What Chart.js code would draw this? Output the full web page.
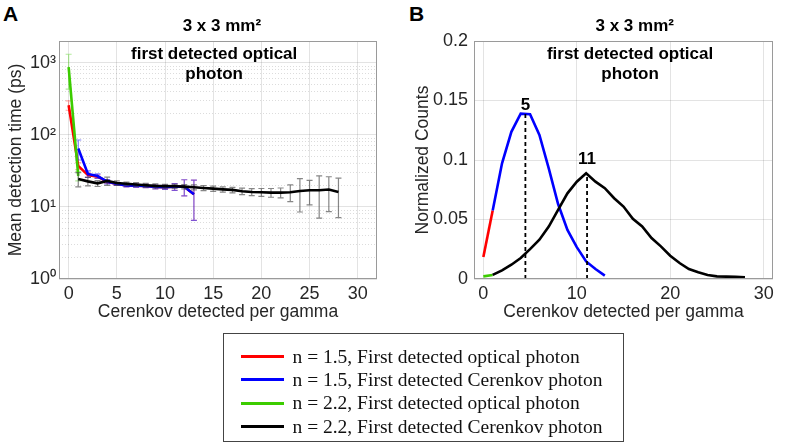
<!DOCTYPE html>
<html>
<head>
<meta charset="utf-8">
<script src="https://cdn.jsdelivr.net/npm/chart.js@4.4.0/dist/chart.umd.min.js"></script>
<style>
  body { margin: 0; background: #fff; width: 789px; height: 445px; position: relative; overflow: hidden;
         font-family: "Liberation Sans", Arial, sans-serif; }
  #wrapA { position: absolute; left: 0; top: 0; width: 395px; height: 340px; }
  #wrapB { position: absolute; left: 395px; top: 0; width: 394px; height: 340px; }
  .letter { position: absolute; font-weight: bold; font-size: 21px; line-height: 21px; color: #000; }
  #legend { position: absolute; left: 223px; top: 333px; width: 399px; height: 107px;
            border: 1.5px solid #444; box-sizing: content-box; padding: 0;
            font-family: "Liberation Serif", "Times New Roman", serif; font-size: 19.5px; color: #111; }
  #legend .row { display: flex; align-items: center; height: 23.3px; padding-left: 16.5px; }
  #legend .row:first-child { margin-top: 11px; }
  #legend .swatch { width: 43px; height: 3px; margin-right: 9px; }
</style>
</head>
<body>
<div class="letter" style="left:3px;top:3px">A</div>
<div class="letter" style="left:409px;top:3px">B</div>
<div id="wrapA"><canvas id="chartA" width="395" height="340"></canvas></div>
<div id="wrapB"><canvas id="chartB" width="394" height="340"></canvas></div>
<div id="legend"></div>

<script>
// ---- data ----
const seriesLabels = [
  'n = 1.5, First detected optical photon',
  'n = 1.5, First detected Cerenkov photon',
  'n = 2.2, First detected optical photon',
  'n = 2.2, First detected Cerenkov photon'
];
const seriesColors = ['#ff0000', '#0000ff', '#3ccc00', '#000000'];
const errorColors = ['rgba(255,0,0,0.35)', 'rgba(0,0,255,0.5)', 'rgba(60,204,0,0.4)', 'rgba(70,70,70,0.65)'];

// panel A: mean detection time (ps) vs Cerenkov detected per gamma
const xOpt15 = [0, 1, 2, 3, 4, 5, 6, 7, 8, 9, 10, 11, 12, 13];
const meanOpt15 = [257, 37, 27.6, 26.3, 22.4, 20.8, 19.9, 19.7, 19.5, 18.9, 18.7, 19.0, 19.0, 15.0];
const errOpt15 = [38, 4, 2, 1.5, 1.2, 1, 1, 1, 1, 1.2, 1.2, 2, 4.8, 8.5];

const xCer15 = [1, 2, 3, 4, 5, 6, 7, 8, 9, 10, 11, 12, 13];
const meanCer15 = [64.7, 28.6, 26.8, 22.4, 20.8, 19.9, 19.7, 19.5, 18.9, 18.7, 19.0, 19.0, 15.0];
const errCer15 = [20, 3, 2, 1.5, 1, 1, 1, 1, 1.2, 1.2, 2, 4.8, 8.5];

const xOpt22 = [0, 1];
const meanOpt22 = [870, 27];
const errOpt22 = [440, 4];

const xCer22 = [1, 2, 3, 4, 5, 6, 7, 8, 9, 10, 11, 12, 13, 14, 15, 16, 17, 18, 19, 20, 21, 22, 23, 24, 25, 26, 27, 28];
const meanCer22 = [24.4, 22.6, 21.2, 22.9, 21.4, 20.9, 20.5, 20.0, 19.6, 19.4, 19.3, 19.1, 18.7, 18.3,
                   17.9, 17.5, 17.2, 16.5, 16.1, 16.0, 15.8, 15.8, 16.0, 16.6, 17.0, 17.0, 17.4, 16.1];
const errCer22 = [5.5, 3, 2, 3, 1.5, 1.2, 1.2, 1.2, 1.2, 1.2, 1.2, 1.3, 1.5, 1.5,
                  1.5, 1.5, 1.5, 1.7, 1.8, 2, 2.2, 2.5, 4.2, 8.1, 6.3, 10, 8.8, 9];

const logTickLabels = {1: '10\u2070', 10: '10\u00b9', 100: '10\u00b2', 1000: '10\u00b3'};

// panel B: normalized counts
const xCntOpt15 = [0, 1];
const cntOpt15 = [0.0184, 0.0575];
const xCntCer15 = [1, 2, 3, 4, 5, 6, 7, 8, 9, 10, 11, 12, 13];
const cntCer15 = [0.0575, 0.0972, 0.1237, 0.139, 0.1385, 0.121, 0.093, 0.063, 0.0413, 0.0268, 0.0148, 0.0084, 0.0028];
const xCntOpt22 = [0, 1];
const cntOpt22 = [0.0022, 0.0034];
const xCntCer22 = [1, 2, 3, 4, 5, 6, 7, 8, 9, 10, 11, 12, 13, 14, 15, 16, 17, 18, 19, 20, 21, 22, 23, 24, 25, 26, 27, 28];
const cntCer22 = [0.0034, 0.0073, 0.012, 0.0176, 0.0251, 0.033, 0.0441, 0.058, 0.072, 0.0818, 0.0888, 0.0818,
                  0.0763, 0.0679, 0.0609, 0.0506, 0.0441, 0.0344, 0.0274, 0.0196, 0.0134, 0.0084, 0.0056,
                  0.0034, 0.0022, 0.002, 0.0018, 0.0014];

// peak markers (dashed lines) and their labels
const peakX = [4.5, 11.1];
const peakY = [0.139, 0.0888];
const peakLabels = ['5', '11'];
const peakLabelY = [0.146, 0.1006];

const panelTitle = '3 x 3 mm\u00b2';
const panelNote = ['first detected optical', 'photon'];

// ---- helpers ----
const toPoints = (xs, ys) => xs.map((x, i) => ({x: x, y: ys[i]}));

Chart.defaults.font.family = "'Liberation Sans', Arial, sans-serif";
Chart.defaults.color = '#262626';

const gridMajor = 'rgba(38,38,38,0.13)';
const gridMinor = 'rgba(38,38,38,0.16)';
const tickFont = {size: 18};
const axisTitleFont = {size: 17.5};

// box around the plot area + title and note text
const boxPlugin = {
  id: 'matBox',
  afterDraw(chart, args, opts) {
    const {ctx, chartArea: a, scales} = chart;
    ctx.save();
    ctx.strokeStyle = '#9a9a9a';
    ctx.lineWidth = 1;
    ctx.strokeRect(a.left + 0.5, a.top + 0.5, a.right - a.left - 1, a.bottom - a.top - 1);
    ctx.fillStyle = '#000';
    ctx.textAlign = 'center';
    ctx.textBaseline = 'middle';
    ctx.font = "bold 17px 'Liberation Sans', Arial, sans-serif";
    ctx.fillText(panelTitle, scales.x.getPixelForValue(opts.titleX), 26.7);
    panelNote.forEach((t, i) => ctx.fillText(t, scales.x.getPixelForValue(opts.noteX), 54 + i * 20));
    ctx.restore();
  }
};

// symmetric error bars, drawn just before each line
const errorBarPlugin = {
  id: 'errorBars',
  beforeDatasetDraw(chart, args) {
    const ds = chart.data.datasets[args.index];
    if (!ds.errors) return;
    const {ctx, chartArea: a, scales: {x, y}} = chart;
    ctx.save();
    ctx.beginPath();
    ctx.rect(a.left, a.top, a.right - a.left, a.bottom - a.top);
    ctx.clip();
    ctx.strokeStyle = ds.errorColor;
    ctx.lineWidth = 1.2;
    ds.data.forEach((p, i) => {
      const e = ds.errors[i];
      const px = x.getPixelForValue(p.x);
      const hi = y.getPixelForValue(p.y + e);
      const lo = y.getPixelForValue(Math.max(p.y - e, 1));
      ctx.beginPath();
      ctx.moveTo(px, hi); ctx.lineTo(px, lo);
      ctx.moveTo(px - 3, hi); ctx.lineTo(px + 3, hi);
      ctx.moveTo(px - 3, lo); ctx.lineTo(px + 3, lo);
      ctx.stroke();
    });
    ctx.restore();
  }
};

// peak value labels for panel B
const peakLabelPlugin = {
  id: 'peakLabels',
  afterDatasetsDraw(chart) {
    const {ctx, scales: {x, y}} = chart;
    ctx.save();
    ctx.fillStyle = '#000';
    ctx.textAlign = 'center';
    ctx.textBaseline = 'middle';
    ctx.font = "bold 17px 'Liberation Sans', Arial, sans-serif";
    peakLabels.forEach((t, i) => ctx.fillText(t, x.getPixelForValue(peakX[i]), y.getPixelForValue(peakLabelY[i])));
    ctx.restore();
  }
};

function lineSet(label, pts, color, order, extra) {
  return Object.assign({
    label: label, data: pts, borderColor: color, backgroundColor: color,
    borderWidth: 2.6, pointRadius: 0, tension: 0, order: order
  }, extra || {});
}

// ---- panel A ----
new Chart(document.getElementById('chartA'), {
  type: 'line',
  data: {
    datasets: [
      lineSet(seriesLabels[0], toPoints(xOpt15, meanOpt15), seriesColors[0], 4, {errors: errOpt15, errorColor: errorColors[0]}),
      lineSet(seriesLabels[1], toPoints(xCer15, meanCer15), seriesColors[1], 3, {errors: errCer15, errorColor: errorColors[1]}),
      lineSet(seriesLabels[2], toPoints(xOpt22, meanOpt22), seriesColors[2], 2, {errors: errOpt22, errorColor: errorColors[2]}),
      lineSet(seriesLabels[3], toPoints(xCer22, meanCer22), seriesColors[3], 1, {errors: errCer22, errorColor: errorColors[3]})
    ]
  },
  options: {
    responsive: false,
    animation: false,
    layout: {padding: {left: 0, right: 18, top: 41, bottom: 0}},
    plugins: {legend: {display: false}, tooltip: {enabled: false}, matBox: {titleX: 15.9, noteX: 15.1}},
    scales: {
      x: {
        type: 'linear', min: -1, max: 32,
        ticks: {stepSize: 5, includeBounds: false, padding: 4, font: tickFont, maxRotation: 0},
        grid: {color: gridMajor, drawTicks: false},
        border: {display: false},
        title: {display: true, text: 'Cerenkov detected per gamma', font: axisTitleFont, padding: {top: 0, bottom: 17}},
        afterFit: s => { s.height = 61; }
      },
      y: {
        type: 'logarithmic', min: 1, max: 2000,
        afterBuildTicks: s => {
          s.ticks = s.ticks.filter(t => {
            const m = t.value / Math.pow(10, Math.floor(Math.log10(t.value) + 1e-9));
            return Math.abs(m - Math.round(m)) < 1e-6;
          });
        },
        ticks: {autoSkip: false, padding: 3, font: tickFont,
                callback: v => logTickLabels[v] || ''},
        grid: {
          drawTicks: false,
          color: c => (logTickLabels[c.tick && c.tick.value] ? gridMajor : gridMinor)
        },
        border: {display: false, dash: c => (logTickLabels[c.tick && c.tick.value] ? [] : [1, 2])},
        title: {display: true, text: 'Mean detection time (ps)', font: axisTitleFont, padding: {top: 6, bottom: 0}},
        afterFit: s => { s.width = 59; }
      }
    }
  },
  plugins: [errorBarPlugin, boxPlugin]
});

// ---- panel B ----
const dashedSets = peakX.map((px, i) => lineSet('peak ' + peakLabels[i],
  toPoints([px, px], [0, peakY[i]]), '#000', 0, {borderWidth: 1.8, borderDash: [4, 3]}));

new Chart(document.getElementById('chartB'), {
  type: 'line',
  data: {
    datasets: [
      lineSet(seriesLabels[0], toPoints(xCntOpt15, cntOpt15), seriesColors[0], 4),
      lineSet(seriesLabels[1], toPoints(xCntCer15, cntCer15), seriesColors[1], 3),
      lineSet(seriesLabels[2], toPoints(xCntOpt22, cntOpt22), seriesColors[2], 2),
      lineSet(seriesLabels[3], toPoints(xCntCer22, cntCer22), seriesColors[3], 1)
    ].concat(dashedSets)
  },
  options: {
    responsive: false,
    animation: false,
    layout: {padding: {left: 0, right: 16, top: 41, bottom: 0}},
    plugins: {legend: {display: false}, tooltip: {enabled: false}, matBox: {titleX: 16.2, noteX: 15.7}},
    scales: {
      x: {
        type: 'linear', min: -1, max: 31,
        ticks: {stepSize: 10, includeBounds: false, padding: 4, font: tickFont, maxRotation: 0},
        grid: {color: gridMajor, drawTicks: false},
        border: {display: false},
        title: {display: true, text: 'Cerenkov detected per gamma', font: axisTitleFont, padding: {top: 0, bottom: 17}},
        afterFit: s => { s.height = 61; }
      },
      y: {
        type: 'linear', min: 0, max: 0.2,
        ticks: {stepSize: 0.05, padding: 6, font: {size: 18}, callback: v => (v === 0 ? '0' : String(+v.toFixed(2)))},
        grid: {color: gridMajor, drawTicks: false},
        border: {display: false},
        title: {display: true, text: 'Normalized Counts', font: axisTitleFont, padding: {top: 18, bottom: 0}},
        afterFit: s => { s.width = 79; }
      }
    }
  },
  plugins: [boxPlugin, peakLabelPlugin]
});

// ---- legend box ----
const legendEl = document.getElementById('legend');
seriesLabels.forEach((t, i) => {
  const row = document.createElement('div');
  row.className = 'row';
  const sw = document.createElement('span');
  sw.className = 'swatch';
  sw.style.background = seriesColors[i];
  row.appendChild(sw);
  row.appendChild(document.createTextNode(t));
  legendEl.appendChild(row);
});
</script>
</body>
</html>
